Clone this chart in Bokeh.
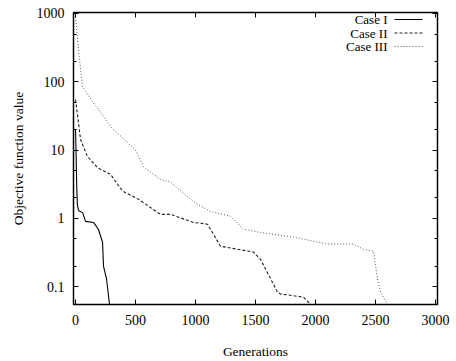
from bokeh.plotting import figure
from bokeh.models import (FixedTicker, LinearAxis, LogAxis, Label, Arrow)
from bokeh.embed import file_html
from bokeh.resources import INLINE

# ---- data ----
case1_gen = [0, 5, 10, 15, 25, 60, 83, 150, 190, 225, 233, 258, 283]
case1_val = [20, 8, 3, 1.6, 1.3, 1.2, 0.9, 0.87, 0.69, 0.45, 0.2, 0.13, 0.055]

case2_gen = [0, 42, 100, 183, 292, 392, 525, 708, 792, 983, 1100, 1208, 1483,
             1542, 1683, 1708, 1900, 1958]
case2_val = [55, 14.2, 8.0, 5.5, 4.4, 2.5, 1.9, 1.14, 1.14, 0.87, 0.82, 0.39,
             0.32, 0.25, 0.083, 0.078, 0.07, 0.055]

case3_gen = [0, 25, 58, 150, 192, 292, 475, 500, 567, 708, 792, 958, 1017, 1125,
             1292, 1400, 1542, 1817, 2100, 2317, 2400, 2483, 2517, 2542, 2600]
case3_val = [888, 294, 84, 49, 39, 22, 11, 10, 5.7, 3.7, 3.4, 1.9, 1.6, 1.26,
             1.07, 0.69, 0.62, 0.53, 0.42, 0.42, 0.35, 0.33, 0.13, 0.083, 0.055]

x_ticks = [0, 500, 1000, 1500, 2000, 2500, 3000]
y_ticks = [0.1, 1, 10, 100, 1000]
y_minor = [0.2, 0.5, 2, 5, 20, 50, 200, 500]
y_labels = {0.1: "0.1", 1: "1", 10: "10", 100: "100", 1000: "1000"}
series_names = ["Case I", "Case II", "Case III"]

FONT = "Liberation Serif"

p = figure(width=456, height=361, y_axis_type="log",
           x_range=(-17, 3017), y_range=(0.0546, 1034),
           output_backend="svg", toolbar_location=None,
           min_border_left=73, min_border_right=19,
           min_border_top=12, min_border_bottom=56)
p.background_fill_color = "white"
p.border_fill_color = "white"
p.outline_line_color = "black"
p.outline_line_width = 1.3
p.xgrid.visible = False
p.ygrid.visible = False

# lines
p.line(case1_gen, case1_val, line_color="black", line_width=1.1)
p.line(case2_gen, case2_val, line_color="#222222", line_width=1.1, line_dash="3 2")
p.line(case3_gen, case3_val, line_color="#555555", line_width=1.0, line_dash="1 2")

# axes
xt = FixedTicker(ticks=x_ticks, minor_ticks=[])
yt = FixedTicker(ticks=y_ticks, minor_ticks=y_minor)

for ax in p.xaxis:
    ax.ticker = xt
for ax in p.yaxis:
    ax.ticker = yt
    ax.major_label_overrides = y_labels

def style(ax):
    ax.axis_line_color = "black"
    ax.axis_line_width = 1.2
    ax.major_tick_in = 5
    ax.major_tick_out = 0
    ax.minor_tick_in = 3
    ax.minor_tick_out = 0
    ax.major_tick_line_color = "black"
    ax.minor_tick_line_color = "black"
    ax.major_label_text_font = FONT
    ax.major_label_text_font_size = "14px"
    ax.major_label_text_color = "black"
    ax.axis_label_text_font = FONT
    ax.axis_label_text_font_size = "13.5px"
    ax.axis_label_text_font_style = "normal"
    ax.axis_label_text_color = "black"

style(p.xaxis[0])
style(p.yaxis[0])
p.xaxis[0].axis_label = "Generations"
p.xaxis[0].major_label_standoff = 10
p.xaxis[0].axis_label_standoff = 16
p.yaxis[0].axis_label = "Objective function value"
p.yaxis[0].major_label_standoff = 9
p.yaxis[0].axis_label_standoff = 8

top = LinearAxis(ticker=FixedTicker(ticks=x_ticks, minor_ticks=[]),
                 major_label_overrides={t: "" for t in x_ticks})
right = LogAxis(ticker=FixedTicker(ticks=y_ticks, minor_ticks=y_minor),
                major_label_overrides={t: "" for t in y_ticks})
for ax in (top, right):
    style(ax)
    ax.major_label_standoff = 0
    ax.axis_label_standoff = 0
p.add_layout(top, "above")
p.add_layout(right, "right")

# key (gnuplot style: text right-aligned, sample to the right)
# screen units here are measured from the frame's lower-left corner
dashes = ["solid", "3 2", "1 2"]
colors = ["black", "#222222", "#555555"]
for i, name in enumerate(series_names):
    ys = 285 - i * 13.5
    p.add_layout(Label(x=314, y=ys, x_units="screen", y_units="screen",
                       text=name, text_align="right", text_baseline="middle",
                       text_font=FONT, text_font_size="13px", text_color="black"))
    p.add_layout(Arrow(x_start=321, y_start=ys, x_end=349, y_end=ys,
                       start_units="screen", end_units="screen",
                       start=None, end=None, line_color=colors[i],
                       line_width=1.1, line_dash=dashes[i]))

open("out.html", "w").write(file_html(p, INLINE))
